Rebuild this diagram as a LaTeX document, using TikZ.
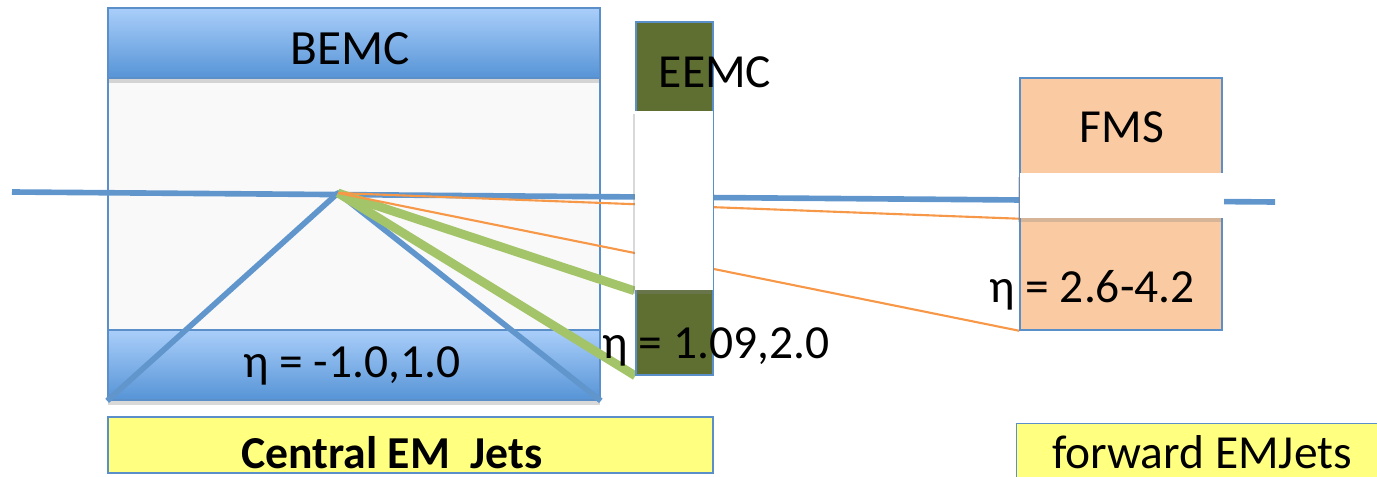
\documentclass[tikz,border=0pt]{standalone}
\usepackage{fontspec}
\setmainfont{Carlito}
\usepackage{xcolor}
\usepackage{tikz}
\usetikzlibrary{positioning,shadows}

\definecolor{calblue}{RGB}{91,143,201}
\definecolor{beamblue}{RGB}{96,150,204}
\definecolor{bandlight}{RGB}{170,206,250}
\definecolor{banddark}{RGB}{86,148,214}
\definecolor{barrelgray}{RGB}{249,249,249}
\definecolor{eemcgreen}{RGB}{95,111,50}
\definecolor{fmspeach}{RGB}{250,203,162}
\definecolor{jetgreen}{RGB}{163,196,104}
\definecolor{photonorange}{RGB}{247,152,72}
\definecolor{labelyellow}{RGB}{255,255,128}

\pgfdeclarelayer{barrel}
\pgfdeclarelayer{tracks}
\pgfsetlayers{barrel,tracks,main}

\begin{document}
\begin{tikzpicture}[
    x=0.01cm, y=-0.01cm,
    font=\fontsize{13.5}{16}\selectfont,
    det/.style={draw=calblue, inner sep=0},
    band/.style={det, top color=bandlight, bottom color=banddark, minimum width=4.92cm, minimum height=0.7cm,
        drop shadow={shadow xshift=0pt, shadow yshift=-1.5pt, opacity=0.3}},
    window/.style={fill=white, inner sep=0, drop shadow={shadow xshift=-0.6pt, shadow yshift=-1pt, opacity=0.3}},
    tag/.style={anchor=base, inner sep=0},
    jetbox/.style={det, fill=labelyellow},
    beam/.style={beamblue, line width=1.6pt},
    cone/.style={beamblue, line width=1.6pt, line join=round},
    jet/.style={jetgreen, line width=2.5pt},
    photon/.style={photonorange, line width=0.6pt}
]
    \useasboundingbox (0,0) rectangle (1377,476);
    \clip (0,0) rectangle (1377,476);

    % barrel calorimeter
    \begin{pgfonlayer}{barrel}
        \node[det, fill=barrelgray, minimum width=4.92cm, minimum height=3.92cm] (bemc) at (354,204) {};
        \node[band] (bemctop) at (354,43) {};
        \node[band] (bemcbot) at (354,365) {};
    \end{pgfonlayer}

    % endcap and forward detectors
    \node[det, fill=eemcgreen, minimum width=0.77cm, minimum height=3.53cm] (eemc) at (674.5,198.5) {};
    \node[window, minimum width=0.78cm, minimum height=1.79cm] (eemchole) at (674,200.5) {};
    \node[det, fill=fmspeach, minimum width=2.02cm, minimum height=2.52cm] (fms) at (1121,204) {};
    \node[window, minimum width=2.04cm, minimum height=0.45cm] (fmshole) at (1122,195.5) {};

    \node[tag] (bemclabel) at (350,65) {\fontsize{14}{16}\selectfont BEMC};
    \node[tag] (bemceta) at (352,377) {η = -1.0,1.0};
    \node[tag] (eemclabel) at (715,88) {EEMC};
    \node[tag] (eemceta) at (716,358) {η = 1.09,2.0};
    \node[tag] (fmslabel) at (1122,143) {FMS};
    \node[tag] (fmseta) at (1092,302) {η = 2.6-4.2};

    \node[jetbox, minimum width=6.05cm, minimum height=0.56cm] (centralbox) at (410.5,445) {};
    \node[tag, font=\fontsize{13}{15}\selectfont\bfseries] (centraltxt) at (392,468) {Central EM\ \ Jets};
    \node[jetbox, anchor=north west, minimum width=4cm, minimum height=0.8cm] (forwardbox) at (1016,423) {};
    \node[tag] (forwardtxt) at (1202,468) {forward EMJets};

    % beam, vertex and the particle paths
    \begin{pgfonlayer}{tracks}
        \coordinate (beamin) at (12,192);
        \coordinate (beamout) at (1275,202);
        \coordinate (vertex) at (338,193);
        \draw[beam] (beamin) -- (beamout);
        \draw[cone] (bemc.south west) -- (vertex) -- (bemc.south east);
        \draw[jet] (vertex) -- (eemchole.south west);
        \draw[jet] (vertex) -- (eemc.south west);
        \draw[photon] (vertex) -- (fmshole.south west);
        \draw[photon] (vertex) -- (fms.south west);
    \end{pgfonlayer}
\end{tikzpicture}
\end{document}
